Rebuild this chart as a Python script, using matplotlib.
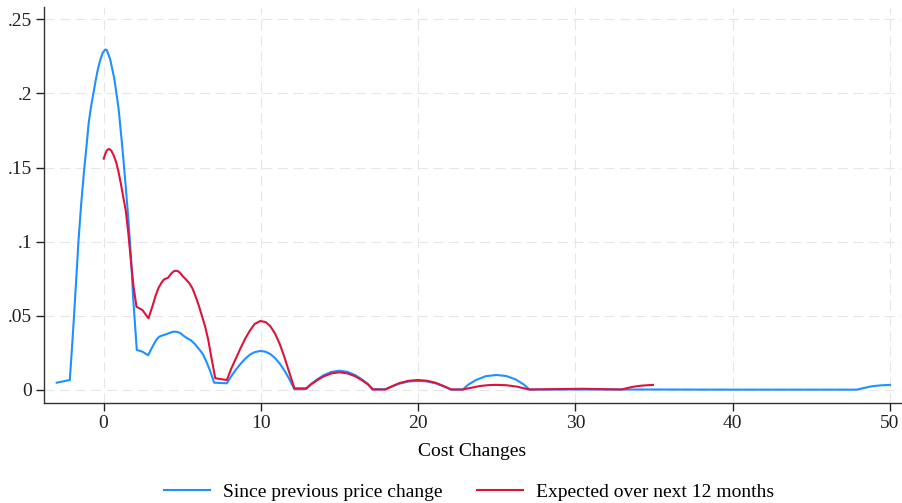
import matplotlib
matplotlib.use("Agg")
import matplotlib.pyplot as plt

plt.rcParams['font.family'] = ['Liberation Serif', 'DejaVu Serif']

# density of cost changes, since previous price change
since_x = [-2.98, -2.15, -2.0, -1.88, -1.75, -1.6, -1.43, -1.25, -1.1, -0.95, -0.8, -0.65,
           -0.5, -0.35, -0.2, -0.05, 0.1, 0.2, 0.42, 0.68, 0.95, 1.18, 1.4, 1.59, 1.75, 1.88,
           2.11, 2.47, 2.83, 3.0, 3.2, 3.35, 3.53, 3.75, 3.96, 4.2, 4.4, 4.53, 4.7, 4.9, 5.12,
           5.3, 5.55, 5.8, 6.05, 6.29, 6.5, 6.75, 7.03, 7.84, 8.1, 8.4, 8.7, 9.0, 9.3, 9.6,
           9.96, 10.3, 10.6, 10.9, 11.2, 11.5, 11.8, 12.13, 12.87, 13.2, 13.6, 14.0, 14.5,
           14.99, 15.5, 16.0, 16.4, 16.8, 17.11, 17.92, 18.3, 18.8, 19.4, 19.97, 20.5, 21.1,
           21.6, 22.1, 22.84, 23.2, 23.7, 24.3, 24.97, 25.6, 26.2, 26.7, 27.08, 30.0, 35.0,
           40.0, 47.88, 48.3, 48.7, 49.2, 49.6, 50.0]
since_y = [0.0049, 0.0067, 0.030, 0.050, 0.073, 0.100, 0.125, 0.147, 0.163, 0.180, 0.191,
           0.200, 0.209, 0.217, 0.223, 0.2275, 0.2296, 0.2293, 0.223, 0.210, 0.190, 0.165,
           0.138, 0.113, 0.088, 0.062, 0.027, 0.0258, 0.0234, 0.027, 0.031, 0.0338, 0.0359,
           0.0368, 0.0375, 0.0385, 0.0392, 0.0393, 0.0391, 0.0382, 0.0362, 0.0350, 0.0335,
           0.031, 0.0278, 0.0245, 0.020, 0.0135, 0.0049, 0.0045, 0.009, 0.0135, 0.0175, 0.021,
           0.0238, 0.0255, 0.0263, 0.0258, 0.0242, 0.0215, 0.0178, 0.0130, 0.0075, 0.0005,
           0.0005, 0.0041, 0.0073, 0.0100, 0.0122, 0.0130, 0.0122, 0.0100, 0.0073, 0.0041,
           0.0005, 0.0005, 0.0022, 0.0042, 0.0057, 0.0061, 0.0058, 0.0045, 0.0025, 0.0003,
           0.0003, 0.0037, 0.0068, 0.0093, 0.0101, 0.0094, 0.0071, 0.0038, 0.0003, 0.0003,
           0.0003, 0.0002, 0.0002, 0.0012, 0.0022, 0.0029, 0.0032, 0.0034]

# density of cost changes expected over the next 12 months
expected_x = [0.01, 0.1, 0.2, 0.3, 0.39, 0.5, 0.65, 0.8, 0.95, 1.1, 1.25, 1.41, 1.57, 1.73,
              1.9, 2.09, 2.47, 2.85, 3.0, 3.15, 3.32, 3.5, 3.7, 3.85, 4.1, 4.3, 4.45, 4.6,
              4.75, 4.9, 5.05, 5.23, 5.45, 5.65, 5.85, 6.05, 6.25, 6.45, 6.65, 6.85, 7.1,
              7.84, 8.1, 8.4, 8.7, 9.0, 9.3, 9.6, 9.96, 10.3, 10.6, 10.9, 11.2, 11.5, 11.8,
              12.13, 12.87, 13.2, 13.6, 14.0, 14.5, 14.99, 15.5, 16.0, 16.4, 16.8, 17.11,
              17.92, 18.3, 18.8, 19.4, 19.97, 20.5, 21.1, 21.6, 22.1, 22.84, 23.3, 23.9, 24.5,
              25.0, 25.6, 26.3, 26.8, 27.08, 29.0, 30.5, 32.0, 32.92, 33.3, 33.7, 34.2, 34.6,
              34.93]
expected_y = [0.156, 0.159, 0.1615, 0.1624, 0.1624, 0.1612, 0.158, 0.1535, 0.147, 0.139,
              0.130, 0.121, 0.106, 0.0876, 0.070, 0.0561, 0.0539, 0.0483, 0.053, 0.058,
              0.064, 0.069, 0.0727, 0.0746, 0.0757, 0.0785, 0.0800, 0.0804, 0.0800, 0.0785,
              0.0765, 0.0746, 0.072, 0.0685, 0.063, 0.057, 0.050, 0.043, 0.034, 0.022,
              0.0079, 0.0067, 0.014, 0.021, 0.028, 0.0345, 0.040, 0.0445, 0.0465, 0.0458,
              0.043, 0.038, 0.031, 0.022, 0.012, 0.0011, 0.0011, 0.0038, 0.0067, 0.0092,
              0.0112, 0.0119, 0.0112, 0.0092, 0.0067, 0.0038, 0.0003, 0.0003, 0.0023, 0.0046,
              0.0062, 0.0067, 0.0063, 0.0049, 0.0027, 0.0003, 0.0003, 0.0013, 0.0026, 0.0033,
              0.0034, 0.0032, 0.0022, 0.0009, 0.0003, 0.0006, 0.0008, 0.0005, 0.0003, 0.0013,
              0.0022, 0.0029, 0.0032, 0.0034]

x_ticks = [0, 10, 20, 30, 40, 50]
y_ticks = [0, 0.05, 0.1, 0.15, 0.2, 0.25]
y_tick_labels = ['0', '.05', '.1', '.15', '.2', '.25']

fig = plt.figure(figsize=(9.03, 5.03), dpi=100)
ax = fig.add_axes([44 / 903, 100 / 503, 857 / 903, 396 / 503])

ax.plot(since_x, since_y, color='dodgerblue', lw=1.5, label='Since previous price change', zorder=3)
ax.plot(expected_x, expected_y, color='crimson', lw=1.5, label='Expected over next 12 months', zorder=3)

ax.set_xlim(-3.79, 50.7)
ax.set_ylim(-0.0088, 0.2583)
ax.set_xticks(x_ticks)
ax.set_yticks(y_ticks)
ax.set_yticklabels(y_tick_labels)
ax.tick_params(labelsize=14, length=5.5, width=1.0, pad=3, colors='#222222')

ax.grid(True, color='#e6e6e6', lw=0.8, linestyle=(0, (9, 5)))
ax.set_axisbelow(True)
for side in ['top', 'right']:
    ax.spines[side].set_visible(False)
for side in ['left', 'bottom']:
    ax.spines[side].set_color('#333333')
    ax.spines[side].set_linewidth(1.0)

ax.set_xlabel('Cost Changes', fontsize=14, labelpad=8)

fig.legend(loc='center', bbox_to_anchor=(469 / 903, 1 - 492 / 503), ncol=2, frameon=False,
           fontsize=14, handlelength=2.35, handletextpad=0.65, columnspacing=1.8, borderpad=0)

fig.savefig('out.png', dpi=100)
